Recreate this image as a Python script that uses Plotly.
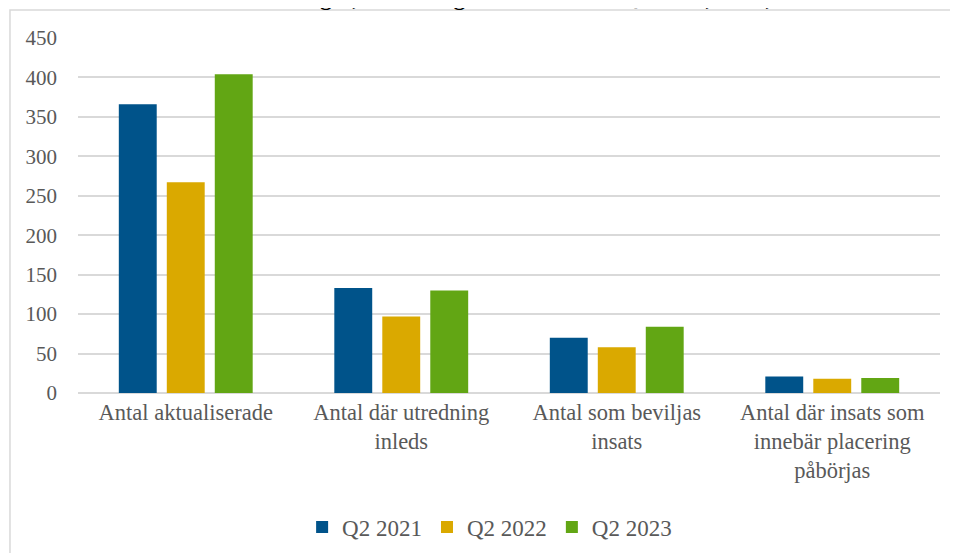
import plotly.graph_objects as go

categories = [
    "Antal aktualiserade",
    "Antal där utredning<br>inleds",
    "Antal som beviljas<br>insats",
    "Antal där insats som<br>innebär placering<br>påbörjas",
]
q2_2021 = [366, 133, 70, 21]
q2_2022 = [267, 97, 58, 18]
q2_2023 = [404, 130, 84, 19]

series = [
    ("Q2 2021", q2_2021, "#00538a"),
    ("Q2 2022", q2_2022, "#daa900"),
    ("Q2 2023", q2_2023, "#62a614"),
]

serif = "Liberation Serif"
grey = "#595959"

fig = go.Figure()
for name, vals, col in series:
    fig.add_trace(go.Bar(x=categories, y=vals, name=name, marker_color=col,
                         marker_line_width=0))

# the page has an 8px body margin, so the figure is drawn 8px right and down
fig.update_layout(
    width=958, height=553,
    margin=dict(l=70, r=26, t=30, b=168),
    paper_bgcolor="white", plot_bgcolor="white",
    barmode="group", bargap=0.332, bargroupgap=0.21,
    font=dict(family=serif, size=21, color=grey),
    showlegend=True,
    legend=dict(orientation="h", x=0.26, xanchor="left", yref="container",
                y=0.0615, yanchor="middle",
                font=dict(family=serif, size=23, color=grey), itemwidth=30,
                traceorder="normal"),
    xaxis=dict(showgrid=False, showline=False, zeroline=False, automargin=False,
               tickfont=dict(family=serif, size=22.5, color=grey), ticklabelstandoff=3),
    yaxis=dict(range=[0, 450], dtick=50, showgrid=True, gridcolor="#d9d9d9",
               gridwidth=1.5, zeroline=True, zerolinecolor="#d9d9d9",
               zerolinewidth=1.5, showline=False, automargin=False,
               tickfont=dict(family=serif, size=21, color=grey), ticklabelstandoff=20),
)

# chart frame (cut off at right and bottom edge of the picture)
fig.add_shape(type="rect", xref="paper", yref="paper",
              x0=-0.0789, x1=1.12, y0=-0.6, y1=1.079,
              line=dict(color="#d9d9d9", width=1.5), fillcolor="rgba(0,0,0,0)",
              layer="below")

# title, mostly above the visible area
fig.add_annotation(text="<b>Aktualiseringar, utredningar och insatser Q2 2021, 2022, 2023</b>",
                   xref="paper", yref="paper", x=0.5, y=1, xanchor="center",
                   yanchor="bottom", yshift=26, showarrow=False,
                   font=dict(family=serif, size=24, color="black"))

fig.write_html("out.html")
